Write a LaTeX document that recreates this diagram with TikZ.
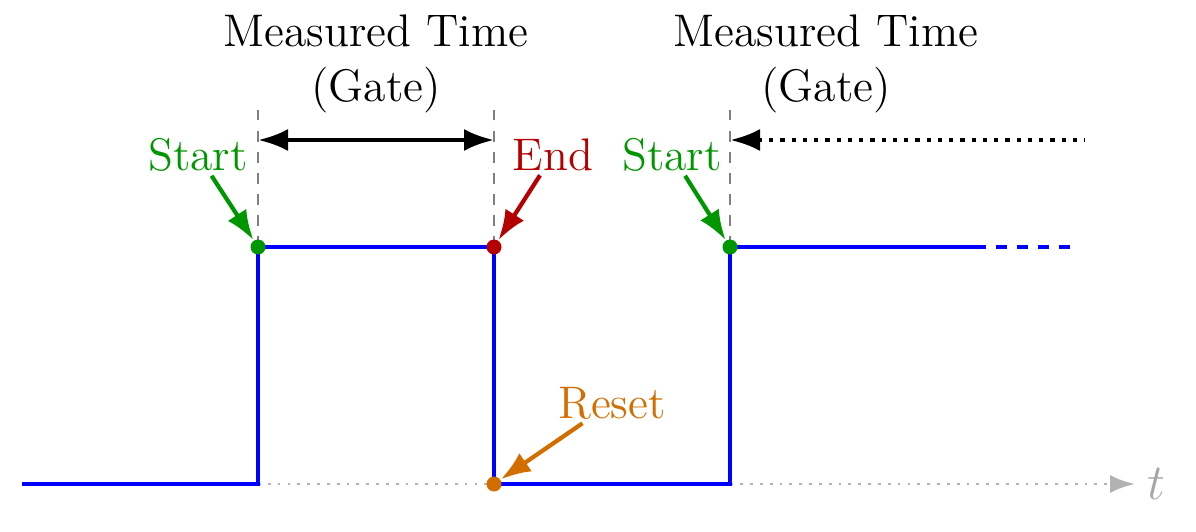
\documentclass[tikz,border=0pt]{standalone}
\usetikzlibrary{arrows.meta}
\definecolor{startgreen}{RGB}{0,150,0}
\definecolor{endred}{RGB}{180,0,0}
\definecolor{resetorange}{RGB}{210,110,0}
\tikzset{
  signal/.style={blue, line width=1pt},
  marker/.style={dashed, gray, thick},
  event/.style={-{Latex[length=3mm,width=2.2mm]}, very thick},
  dot/.style={circle, fill, inner sep=0pt, minimum size=1.5mm},
  lbl/.style={font=\fontsize{13}{15.5}\selectfont, inner sep=1pt},
}
\begin{document}
\begin{tikzpicture}
      \useasboundingbox (0,0) rectangle (11.96,5.31);
      % signal levels
      \coordinate (s0) at (0.22,0.47);
      \coordinate (r1) at (2.58,0.47);
      \coordinate (h1) at (2.58,2.84);
      \coordinate (h2) at (4.94,2.84);
      \coordinate (f1) at (4.94,0.47);
      \coordinate (r2) at (7.30,0.47);
      \coordinate (h3) at (7.30,2.84);
      \coordinate (h4) at (9.75,2.84);
      \coordinate (h5) at (10.80,2.84);
      \coordinate (axend) at (11.35,0.47);
      % time axis
      \draw[gray!60, dotted, thick, -{Latex[length=2.5mm,width=1.8mm]}] (r1) -- (axend);
      \node[gray!70, anchor=west, font=\Large] (t) at (axend) {$t$};
      \draw[signal] (s0) -- (r1) -- (h1) -- (h2) -- (f1) -- (r2) -- (h3) -- (h4);
      \draw[signal, dashed] (h4) -- (h5);
      % gate markers
      \foreach \x/\n in {2.58/a, 4.94/b, 7.30/c} {
        \draw[marker] (\x,2.84) -- (\x,4.21) coordinate (top\n);
        \coordinate (g\n) at (\x,3.91);
      }
      \coordinate (gend) at (10.85,3.91);
      \draw[{Latex[length=3mm,width=2.2mm]}-{Latex[length=3mm,width=2.2mm]}, very thick] (ga) -- (gb);
      \draw[{Latex[length=3mm,width=2.2mm]}-, very thick, dotted] (gc) -- (gend);
      \node[align=center, lbl] (gate1) at (3.76,4.67) {Measured Time\\(Gate)};
      \node[align=center, lbl] (gate2) at (8.26,4.67) {Measured Time\\(Gate)};
      % events
      \node[dot, startgreen] (d1) at (h1) {};
      \node[dot, endred] (d2) at (h2) {};
      \node[dot, startgreen] (d3) at (h3) {};
      \node[dot, resetorange] (d4) at (f1) {};
      \node[startgreen, lbl] (start1) at (1.98,3.76) {Start};
      \node[endred, lbl] (end1) at (5.53,3.76) {End};
      \node[startgreen, lbl] (start2) at (6.72,3.76) {Start};
      \node[resetorange, lbl] (reset) at (6.12,1.28) {Reset};
      \draw[event, startgreen] (start1) -- (d1);
      \draw[event, endred] (end1) -- (d2);
      \draw[event, startgreen] (start2) -- (d3);
      \draw[event, resetorange] (reset) -- (d4);
    \end{tikzpicture}
\end{document}
